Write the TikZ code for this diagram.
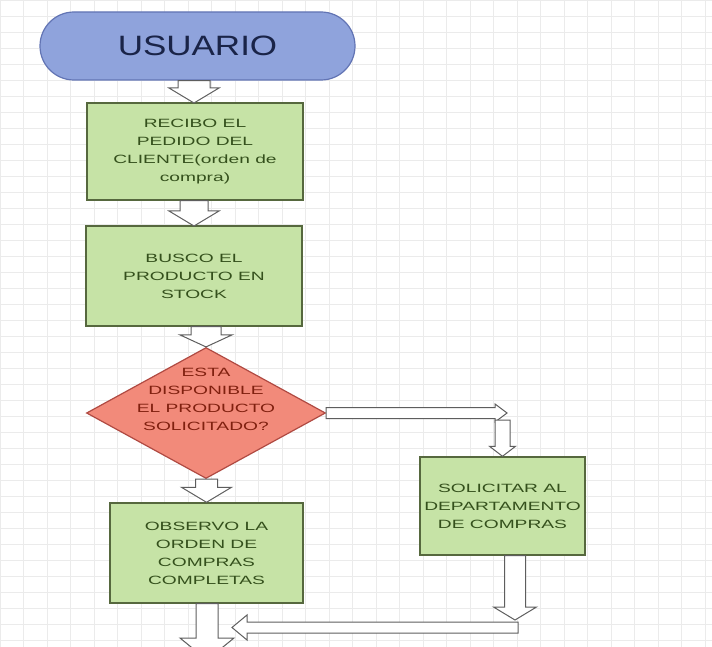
\documentclass[tikz,border=0pt]{standalone}
\usepackage{fontspec}
\setmainfont{Liberation Sans}
\newfontfamily\widefont[FakeStretch=1.6]{Liberation Sans}
\newfontfamily\titlefont[FakeStretch=1.25]{Liberation Sans}
\usetikzlibrary{shapes.geometric,calc}
\definecolor{gridc}{HTML}{EBEBEB}
\definecolor{bluefill}{HTML}{8FA3DC}
\definecolor{bluedraw}{HTML}{6274B4}
\definecolor{bluetext}{HTML}{1A2448}
\definecolor{greenfill}{HTML}{C6E3A6}
\definecolor{greendraw}{HTML}{56683E}
\definecolor{greentext}{HTML}{34501C}
\definecolor{redfill}{HTML}{F28A7A}
\definecolor{reddraw}{HTML}{B04A42}
\definecolor{redtext}{HTML}{80200F}
\definecolor{arrowdraw}{HTML}{5E5E5E}
\tikzset{
  gridline/.style={draw=gridc, line width=0.6pt},
  startbox/.style={draw=bluedraw, fill=bluefill, line width=1.2pt, rounded corners=34pt,
    minimum width=315pt, minimum height=68pt, inner sep=0pt,
    font=\titlefont\fontsize{28}{30}\selectfont, text=bluetext},
  stepbox/.style={draw=greendraw, fill=greenfill, line width=1.4pt, inner sep=0pt,
    align=center, font=\widefont\fontsize{12}{18}\selectfont, text=greentext},
  decbox/.style={diamond, draw=reddraw, fill=redfill, line width=1.2pt, inner sep=0pt,
    minimum width=239pt, minimum height=131pt},
  dectext/.style={align=center, font=\widefont\fontsize{12}{18}\selectfont, text=redtext, yshift=14pt},
  blockarrow/.style={draw=arrowdraw, fill=white, line width=1pt, line join=miter}
}
% down arrow: #1 start, #2 tip, #3 half shaft, #4 half head, #5 head length
\newcommand\blockdown[5]{%
  \path[blockarrow] let \p1=(#1), \p2=(#2) in
    (\x2-#3pt,\y1) -- (\x2+#3pt,\y1) -- (\x2+#3pt,\y2+#5pt) -- (\x2+#4pt,\y2+#5pt)
    -- (\x2,\y2) -- (\x2-#4pt,\y2+#5pt) -- (\x2-#3pt,\y2+#5pt) -- cycle;}
\newcommand\blockright[5]{%
  \path[blockarrow] let \p1=(#1), \p2=(#2) in
    (\x1,\y1+#3pt) -- (\x2-#5pt,\y1+#3pt) -- (\x2-#5pt,\y1+#4pt) -- (\x2,\y1)
    -- (\x2-#5pt,\y1-#4pt) -- (\x2-#5pt,\y1-#3pt) -- (\x1,\y1-#3pt) -- cycle;}
\newcommand\blockleft[5]{%
  \path[blockarrow] let \p1=(#1), \p2=(#2) in
    (\x1,\y1+#3pt) -- (\x2+#5pt,\y1+#3pt) -- (\x2+#5pt,\y1+#4pt) -- (\x2,\y1)
    -- (\x2+#5pt,\y1-#4pt) -- (\x2+#5pt,\y1-#3pt) -- (\x1,\y1-#3pt) -- cycle;}
\begin{document}
\begin{tikzpicture}[x=1pt,y=-1pt]
\useasboundingbox (0,0) rectangle (712,647);
\fill[white] (0,0) rectangle (712,647);
\begin{scope}
\clip (0,0) rectangle (712,647);
\foreach \i in {0,1,...,30} \draw[gridline] (\i*23.5,0) -- (\i*23.5,647);
\foreach \j in {0,16,...,640} \draw[gridline] (0,\j) -- (712,\j);
\end{scope}

\node[startbox] (u) at (197.5,46) {USUARIO};
\node[stepbox, minimum width=216pt, minimum height=97pt] (b1) at (195,151.5)
  {RECIBO EL\\PEDIDO DEL\\CLIENTE(orden de\\compra)};
\node[stepbox, minimum width=216pt, minimum height=100pt] (b2) at (194,276)
  {BUSCO EL\\PRODUCTO EN\\STOCK};
\node[decbox, label={[dectext]center:ESTA\\DISPONIBLE\\EL PRODUCTO\\SOLICITADO?}] (d) at (206,413) {};
\node[stepbox, minimum width=165pt, minimum height=98pt] (b3) at (502.5,506)
  {SOLICITAR AL\\DEPARTAMENTO\\DE COMPRAS};
\node[stepbox, minimum width=193pt, minimum height=100pt] (b4) at (206.5,553)
  {OBSERVO LA\\ORDEN DE\\COMPRAS\\COMPLETAS};

\coordinate (t1) at (194,103);
\coordinate (t2) at (194,226);
\coordinate (t6) at (507,413.5);
\coordinate (s7) at (504,420);
\coordinate (t8) at (515,620);
\coordinate (s9) at (518,627.5);
\coordinate (t9) at (232,627.5);
\coordinate (t5) at (207,660);

\blockdown{u.south}{t1}{16}{25}{15}
\blockdown{b1.south}{t2}{14}{25}{15}
\blockdown{b2.south}{d.north}{15}{26}{12}
\blockdown{d.south}{b4.north}{11}{25}{15}
\blockdown{b4.south}{t5}{11}{27}{22}
\blockright{d.east}{t6}{5.5}{9}{12}
\blockdown{s7}{b3.north}{7.5}{13}{10}
\blockdown{b3.south}{t8}{10.5}{21.5}{13}
\blockleft{s9}{t9}{5.5}{12.5}{15}
\end{tikzpicture}
\end{document}
